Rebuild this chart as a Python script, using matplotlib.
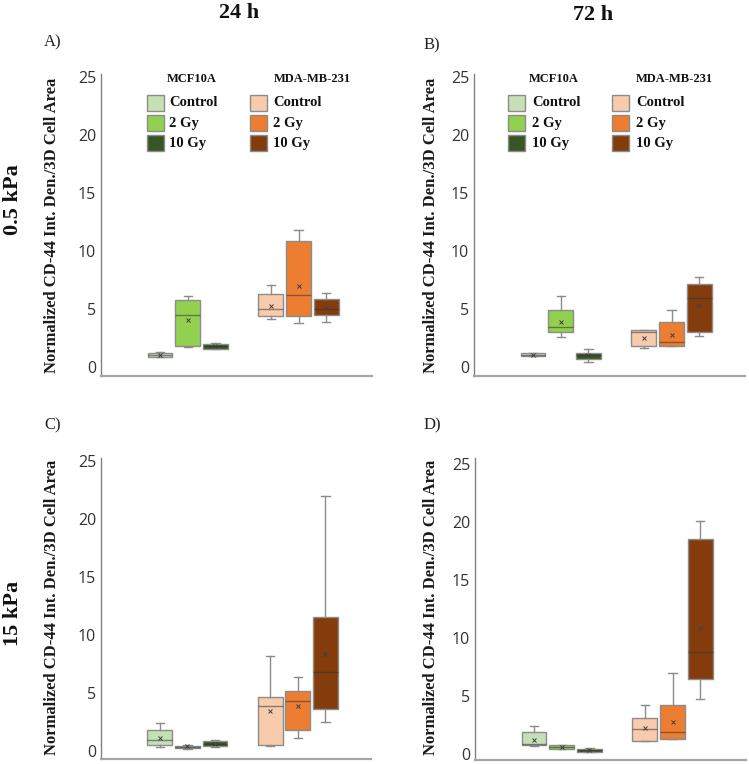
import matplotlib
matplotlib.use("Agg")
import matplotlib.pyplot as plt
from matplotlib.patches import Rectangle

# ---------------- data ----------------
groups = ["MCF10A Control", "MCF10A 2 Gy", "MCF10A 10 Gy",
          "MDA-MB-231 Control", "MDA-MB-231 2 Gy", "MDA-MB-231 10 Gy"]
legend_labels = ["Control", "2 Gy", "10 Gy"]
cell_lines = ["MCF10A", "MDA-MB-231"]
colors = ["#c5e0b4", "#92d050", "#375623", "#f8cbad", "#ed7d31", "#843c0c"]

# Panel A: 0.5 kPa, 24 h
A_whislo = [0.80, 1.70, 1.55, 4.12, 3.75, 3.84]
A_q1     = [0.84, 1.82, 1.56, 4.41, 4.41, 4.47]
A_med    = [1.04, 4.47, 1.76, 4.96, 6.17, 4.98]
A_q3     = [1.16, 5.74, 1.96, 6.28, 10.84, 5.88]
A_whishi = [1.27, 6.08, 2.05, 7.09, 11.79, 6.40]
A_mean   = [1.05, 4.04, 1.76, 5.24, 6.97, 5.10]

# Panel B: 0.5 kPa, 72 h
B_whislo = [0.89, 2.61, 0.37, 1.58, 1.81, 2.67]
B_q1     = [0.89, 3.01, 0.66, 1.75, 1.81, 3.04]
B_med    = [1.03, 3.47, 1.00, 2.99, 2.18, 5.97]
B_q3     = [1.18, 4.94, 1.23, 3.21, 3.85, 7.12]
B_whishi = [1.18, 6.08, 1.55, 3.21, 4.94, 7.78]
B_mean   = [1.03, 3.90, 1.00, 2.50, 2.73, 5.34]

# Panel C: 15 kPa, 24 h
C_whislo = [0.32, 0.20, 0.37, 0.46, 1.15, 2.51]
C_q1     = [0.49, 0.23, 0.40, 0.55, 1.81, 3.63]
C_med    = [0.98, 0.35, 0.60, 3.86, 4.29, 6.80]
C_q3     = [1.84, 0.46, 0.86, 4.64, 5.16, 11.55]
C_whishi = [2.42, 0.55, 0.92, 8.21, 6.42, 21.98]
C_mean   = [1.15, 0.40, 0.63, 3.46, 3.86, 8.35]

# Panel D: 15 kPa, 72 h
D_whislo = [0.72, 0.46, 0.20, 1.12, 1.29, 4.71]
D_q1     = [0.80, 0.49, 0.20, 1.12, 1.29, 6.49]
D_med    = [0.86, 0.66, 0.32, 2.13, 1.87, 8.76]
D_q3     = [1.87, 0.83, 0.46, 3.13, 4.20, 18.50]
D_whishi = [2.44, 0.78, 0.55, 4.20, 7.01, 20.10]
D_mean   = [1.21, 0.66, 0.34, 2.24, 2.76, 10.86]

yticks = [0, 5, 10, 15, 20, 25]
ylabel = "Normalized CD-44 Int. Den./3D Cell Area"
col_titles = ["24 h", "72 h"]
row_titles = ["0.5 kPa", "15 kPa"]
panel_letters = ["A)", "B)", "C)", "D)"]

positions = [1, 2, 3, 5, 6, 7]

panels = [
    (A_whislo, A_q1, A_med, A_q3, A_whishi, A_mean),
    (B_whislo, B_q1, B_med, B_q3, B_whishi, B_mean),
    (C_whislo, C_q1, C_med, C_q3, C_whishi, C_mean),
    (D_whislo, D_q1, D_med, D_q3, D_whishi, D_mean),
]

SERIF = "Liberation Serif"
SANS = "Open Sans"

W, H = 749, 764
fig = plt.figure(figsize=(W / 100, H / 100), dpi=100)

def fr(x0, y0, x1, y1):
    return [x0 / W, 1 - y1 / H, (x1 - x0) / W, (y1 - y0) / H]

axes_px = [
    (101, 74, 372, 376, (-0.8, 25.3)),
    (474, 74, 745, 376, (-0.8, 25.3)),
    (101, 458, 371, 759, (-0.69, 25.3)),
    (475, 458, 746, 760, (-0.5, 25.5)),
]

for i, (ax_px, data) in enumerate(zip(axes_px, panels)):
    x0, y0, x1, y1, yl = ax_px
    ax = fig.add_axes(fr(x0, y0, x1, y1))
    wl, q1, md, q3, wh, mn = data
    stats = []
    for k in range(6):
        stats.append(dict(whislo=wl[k], q1=q1[k], med=md[k], q3=q3[k],
                          whishi=wh[k], mean=mn[k], fliers=[], label=""))
    bp = ax.bxp(stats, positions=positions, widths=0.9, patch_artist=True,
                showmeans=True, showfliers=False,
                boxprops=dict(edgecolor="#8c8c8c", linewidth=1.0),
                whiskerprops=dict(color="#8c8c8c", linewidth=1.0),
                capprops=dict(color="#8c8c8c", linewidth=1.0),
                medianprops=dict(color="#333333", linewidth=1.0, alpha=0.55),
                meanprops=dict(marker="x", markeredgecolor="#404040",
                               markersize=3.5, markeredgewidth=0.7),
                capwidths=0.3)
    for patch, c in zip(bp["boxes"], colors):
        patch.set_facecolor(c)
    ax.set_xlim(-1.13, 8.65)
    ax.set_ylim(*yl)
    ax.set_yticks(yticks)
    ax.set_xticks([])
    ax.tick_params(axis="y", length=0, pad=3.5, labelsize=11.5, labelcolor="#333333")
    for lab in ax.get_yticklabels():
        lab.set_fontfamily(SANS)
    for s in ["top", "right"]:
        ax.spines[s].set_visible(False)
    ax.spines["left"].set_color("#808080")
    ax.spines["left"].set_linewidth(1.0)
    ax.spines["bottom"].set_color("#a6a6a6")
    ax.spines["bottom"].set_linewidth(1.6)

# y labels
for (xc, yc) in [(52, 225), (431, 225), (52, 607), (431, 607)]:
    fig.text(xc / W, 1 - yc / H, ylabel, rotation=90, ha="center", va="center",
             family=SERIF, fontsize=12, fontweight="bold", color="#1a1a1a")

# column titles
for (xc, yc), t in zip([(239, 13), (593, 15)], col_titles):
    fig.text(xc / W, 1 - yc / H, t, ha="center", va="center",
             family=SERIF, fontsize=16, fontweight="bold", color="#111111")

# row titles
for (xc, yc), t in zip([(13, 200), (13, 613)], row_titles):
    fig.text(xc / W, 1 - yc / H, t, rotation=90, ha="center", va="center",
             family=SERIF, fontsize=16, fontweight="bold", color="#111111")

# panel letters
for (xl, yc), t in zip([(44, 42), (424, 45), (44, 425), (424, 425)], panel_letters):
    fig.text(xl / W, 1 - yc / H, t, ha="left", va="center",
             family=SERIF, fontsize=12, color="#222222")

# legends (panels A and B)
leg_cfg = [
    dict(hx=(192, 312), px=(147, 250), lx=(169, 273)),
    dict(hx=(554, 674), px=(508, 612), lx=(532, 636)),
]
row_y = [103, 123, 143]
for cfg in leg_cfg:
    for g in range(2):
        fig.text(cfg["hx"][g] / W, 1 - 79 / H, cell_lines[g], ha="center", va="center",
                 family=SERIF, fontsize=9, fontweight="bold", color="#111111")
        for r in range(3):
            c = colors[g * 3 + r]
            px = cfg["px"][g]
            fig.patches.append(Rectangle((px / W, 1 - (row_y[r] + 8) / H), 17 / W, 16 / H,
                                         transform=fig.transFigure, facecolor=c,
                                         edgecolor="#8c8c8c", linewidth=1.0))
            fig.text(cfg["lx"][g] / W, 1 - row_y[r] / H, legend_labels[r],
                     ha="left", va="center", family=SERIF, fontsize=10.5,
                     fontweight="bold", color="#111111")

fig.savefig("out.png", dpi=100)
